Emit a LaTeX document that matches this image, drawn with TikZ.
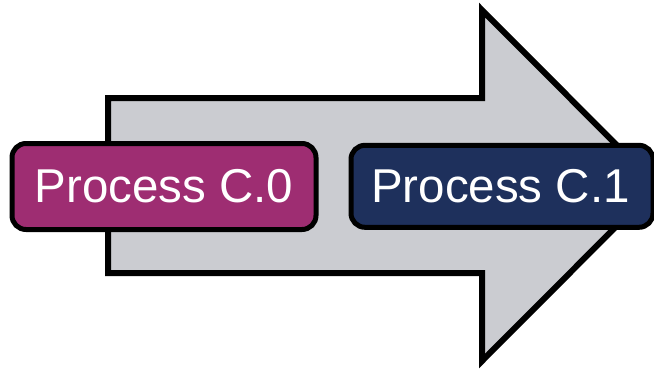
\documentclass[tikz,border=0pt]{standalone}
\usepackage{fontspec}
\setmainfont{Liberation Sans}
\definecolor{arrowgray}{RGB}{203,204,209}
\definecolor{procmag}{RGB}{158,45,114}
\definecolor{procnavy}{RGB}{30,48,92}
\tikzset{
  procbox/.style={draw=black, line width=5pt, rounded corners=14pt, text=white,
    inner sep=0pt, font=\fontsize{47.5}{50}\selectfont, anchor=center},
  bigarrow/.style={draw=black, fill=arrowgray, line width=6pt, miter limit=10}
}
\begin{document}
\begin{tikzpicture}[x=1pt,y=-1pt]
\useasboundingbox (0,0) rectangle (654,368);
\begin{scope}
\clip (0,0) rectangle (654,368);
\draw[bigarrow] (108,98) -- (482,98) -- (482,10) -- (657,185.5) -- (482,361) -- (482,273) -- (108,273) -- cycle;
\node[procbox, fill=procmag, minimum width=304pt, minimum height=86pt] (c0) at (164,186.5) {Process C.0};
\node[procbox, fill=procnavy, minimum width=302pt, minimum height=82pt] (c1) at (502,186.3) {\hspace*{-3pt}Process C.1};
\end{scope}
\end{tikzpicture}
\end{document}
